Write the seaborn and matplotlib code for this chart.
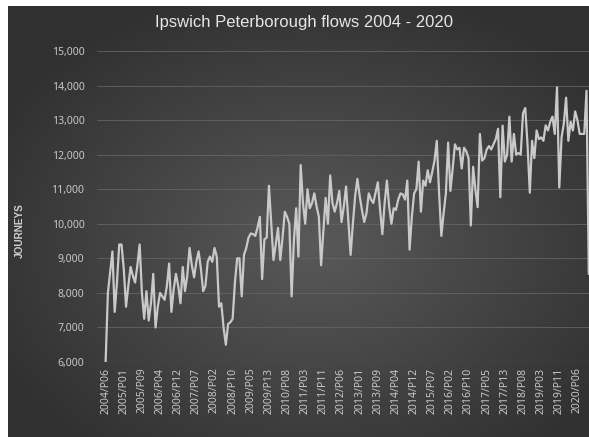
# Libraries
# ===================================================
import numpy as np
import pandas as pd
import seaborn as sns
import matplotlib
matplotlib.use('Agg')
import matplotlib.pyplot as plt
from matplotlib.ticker import FuncFormatter

# Data
# ===================================================
start_year = 2004
start_period = 6
periods_per_year = 13

journeys = [
    6000, 8000, 8600, 9200, 7450, 8300, 9400, 9400, 8700, 7600, 8200, 8750, 8500,
    8300, 8800, 9400, 8000, 7250, 8050, 7200, 7700, 8550, 7000, 7600, 8000, 7900,
    7800, 8200, 8850, 7450, 8100, 8550, 8200, 7700, 8750, 8050, 8500, 9300, 8800,
    8450, 8900, 9200, 8700, 8050, 8200, 8900, 9050, 8900, 9300, 9050, 7600, 7700,
    7000, 6500, 7100, 7150, 7250, 8300, 9000, 9000, 7900, 9100, 9300, 9600, 9720,
    9700, 9650, 9900, 10200, 8400, 9550, 9600, 11100, 10000, 8950, 9400, 9880, 8950,
    9600, 10350, 10200, 10000, 7900, 9500, 10450, 9050, 11700, 10600, 10000, 11000, 10450,
    10600, 10880, 10500, 10200, 8800, 9800, 10750, 10000, 11400, 10600, 10350, 10600, 10950,
    10050, 10500, 11080, 10100, 9100, 10000, 10800, 11300, 10800, 10400, 10050, 10300, 10880,
    10700, 10600, 10900, 11200, 10400, 9700, 10600, 11250, 10500, 10000, 10450, 10400, 10700,
    10880, 10850, 10700, 11250, 9250, 10200, 10880, 11000, 11800, 10350, 11250, 11100, 11550,
    11200, 11500, 11830, 12400, 10900, 9650, 10300, 10880, 12350, 10950, 11600, 12300, 12150,
    12200, 11600, 12200, 12100, 11900, 9950, 11650, 11000, 10480, 12600, 11830, 11900, 12150,
    12250, 12150, 12300, 12450, 12750, 10770, 12840, 11800, 12000, 13100, 11800, 12600, 12000,
    12050, 12000, 13200, 13350, 12300, 10900, 12400, 11900, 12700, 12450, 12500, 12400, 12850,
    12700, 12950, 13100, 12600, 13950, 11050, 12500, 12900, 13650, 12400, 12950, 12700, 13250,
    13000, 12600, 12600, 12600, 13850, 8550,
]

# Period labels (YYYY/Pnn)
labels = []
y, p = start_year, start_period
for _ in journeys:
    labels.append(f'{y}/P{p:02d}')
    p += 1
    if p > periods_per_year:
        p = 1
        y += 1

df = pd.DataFrame({'idx': range(len(journeys)), 'period': labels, 'journeys': journeys})

# Visualization
# ===================================================
sns.set_theme(style='dark')
plt.rcParams['font.family'] = ['Noto Sans', 'DejaVu Sans']

W, H = 589, 437
fig = plt.figure(figsize=(W / 100, H / 100), dpi=100)
fig.patch.set_facecolor('white')

# Dark radial gradient background
bg = fig.add_axes([8 / W, 0, 1 - 8 / W, 1 - 6 / H])
gx, gy = np.meshgrid(np.linspace(-1, 1, 300), np.linspace(-1, 1, 300))
r = np.sqrt((gx - 0.05) ** 2 + (gy - 0.1) ** 2)
shade = np.clip(0.35 - 0.13 * r, 0.19, 0.4)
bg.imshow(np.dstack([shade, shade, shade]), aspect='auto', extent=[0, 1, 0, 1])
bg.set_axis_off()

left, right, top, bottom = 97, 589, 51, 362
ax = fig.add_axes([left / W, 1 - bottom / H, (right - left) / W, (bottom - top) / H])
ax.set_facecolor('none')

sns.lineplot(data=df, x='idx', y='journeys', color='#c9c9c9', linewidth=1.6, ax=ax)

ax.set_xlim(-3.8, len(journeys) - 0.9)
ax.set_ylim(6000, 15000)
ax.set_yticks(range(6000, 15001, 1000))
ax.yaxis.set_major_formatter(FuncFormatter(lambda v, _: f'{int(v):,}'))
ticks = list(range(0, len(journeys), 8))
ax.set_xticks(ticks)
ax.set_xticklabels([labels[i] for i in ticks], rotation=90)

ax.grid(axis='y', color='#646464', linewidth=0.6)
ax.grid(axis='x', visible=False)
for s in ax.spines.values():
    s.set_visible(False)
ax.axhline(6000, color='#747474', linewidth=0.8)

ax.tick_params(axis='y', colors='#c8c8c8', labelsize=7.5, pad=9, length=0)
ax.tick_params(axis='x', colors='#c8c8c8', labelsize=7.5, pad=4, length=0)
ax.set_xlabel('')
ax.set_ylabel('')

# Titles
fig.text(304 / W, 1 - 23 / H, 'Ipswich Peterborough flows 2004 - 2020',
         ha='center', va='center', fontsize=12, color='#e6e6e6',
         family=['Liberation Sans', 'DejaVu Sans'])
fig.text(20 / W, 1 - 231 / H, 'JOURNEYS', rotation=90, ha='center', va='center',
         fontsize=7.2, fontweight='bold', color='#d0d0d0',
         family=['Liberation Sans', 'DejaVu Sans'])

plt.savefig('out.png', dpi=100)
